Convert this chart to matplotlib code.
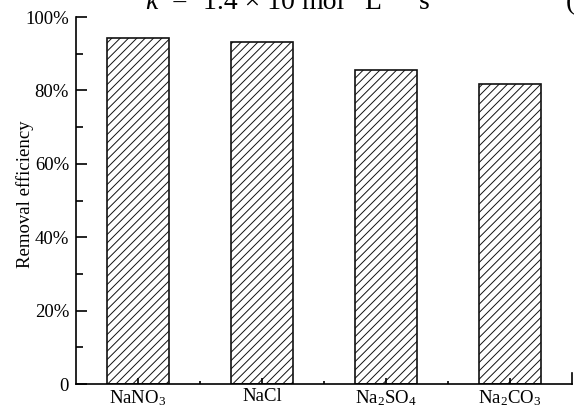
import matplotlib
matplotlib.use("Agg")
import matplotlib.pyplot as plt
from matplotlib.ticker import FixedLocator, FuncFormatter

plt.rcParams["font.family"] = "Liberation Serif"
plt.rcParams["mathtext.fontset"] = "custom"
plt.rcParams["mathtext.rm"] = "Liberation Serif"
plt.rcParams["mathtext.it"] = "Liberation Serif:italic"
plt.rcParams["hatch.linewidth"] = 0.7
plt.rcParams["hatch.color"] = "#444444"

# salts and their removal efficiency (%)
salts = [r"$\mathregular{NaNO_3}$", "NaCl",
         r"$\mathregular{Na_2SO_4}$", r"$\mathregular{Na_2CO_3}$"]
removal = [94.2, 93.1, 85.5, 81.7]

fig = plt.figure(figsize=(5.74, 4.08), dpi=100)
ax = fig.add_axes([0.1324, 0.0588, 0.8641, 0.8995])

x = range(len(salts))
ax.bar(x, removal, width=0.5, color="white", edgecolor="#111111",
       linewidth=1.2, hatch="////")

ax.set_xlim(-0.5, 3.5)
ax.set_ylim(0, 100)

ax.spines["top"].set_visible(False)
ax.spines["right"].set_bounds(0, 3)
for s in ["left", "bottom", "right"]:
    ax.spines[s].set_linewidth(1.2)

ax.set_xticks(list(x))
ax.set_xticklabels(salts)
ax.xaxis.set_minor_locator(FixedLocator([0.5, 1.5, 2.5]))
ax.set_yticks([0, 20, 40, 60, 80, 100])
ax.yaxis.set_minor_locator(FixedLocator([10, 30, 50, 70, 90]))
ax.yaxis.set_major_formatter(FuncFormatter(lambda v, p: "0" if v == 0 else f"{v:.0f}%"))

ax.tick_params(axis="both", which="both", direction="in", labelsize=13.5, width=1.2)
ax.tick_params(axis="y", which="major", length=8, pad=5)
ax.tick_params(axis="y", which="minor", length=5)
ax.tick_params(axis="x", which="major", length=4.5, pad=3)
ax.tick_params(axis="x", which="minor", length=2.5)

ax.set_ylabel("Removal efficiency", fontsize=13.5)
ax.yaxis.set_label_coords(-0.085, 0.518)

# equation line from the page above, cut by the figure edge
base = 1 - 9 / 408
for xpos, txt in [(145, r"$k$"), (172, "="), (203, "1.4 × 10"),
                  (301, "mol"), (364, "L"), (419, "s"), (566, "(")]:
    fig.text(xpos / 574, base, txt, fontsize=20, va="baseline", ha="left")

fig.savefig("out.png", dpi=100)
